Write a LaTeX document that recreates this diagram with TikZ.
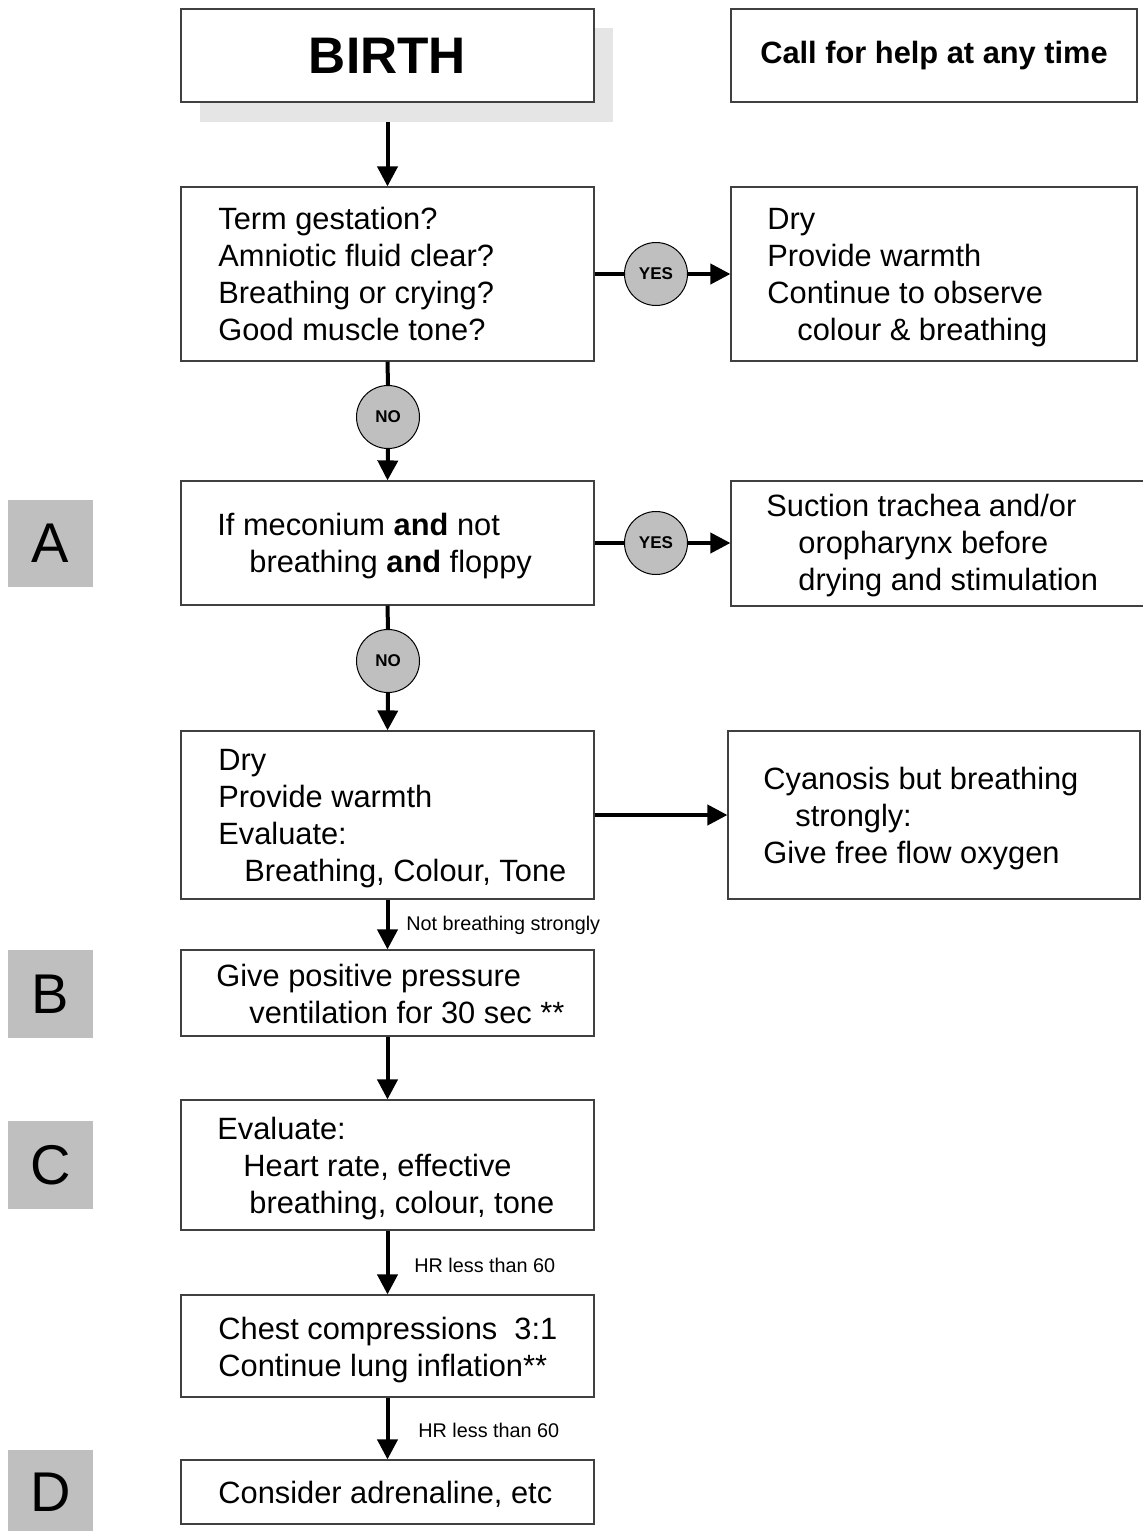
\documentclass[tikz,border=0pt]{standalone}
\usepackage{fontspec}
\setmainfont{Liberation Sans}
\usetikzlibrary{arrows.meta}
\newcommand\fmain{\fontsize{15.4}{18.5}\selectfont}
\newcommand\fsmall{\fontsize{9.9}{11}\selectfont}
\newcommand\fbig{\fontsize{25.7}{30}\selectfont\bfseries}
\newcommand\fletter{\fontsize{28}{32}\selectfont}
\newcommand\fcirc{\fontsize{8.5}{10}\selectfont\bfseries}
\definecolor{shadowgray}{gray}{0.90}
\definecolor{circgray}{gray}{0.75}
\definecolor{boxline}{gray}{0.25}
\tikzset{
  boxnode/.style={draw=boxline, line width=0.6pt, fill=white, rectangle, inner sep=0pt},
  txt/.style={anchor=west, align=left, inner sep=0pt, font=\fmain},
  circnode/.style={circle, draw=black, line width=0.5pt, fill=circgray, minimum size=31.5pt, inner sep=0pt, font=\fcirc},
  letterbox/.style={rectangle, fill=circgray, inner sep=0pt, font=\fletter},
  ln/.style={line width=2pt},
  arr/.style={line width=2pt, -{Triangle[width=10pt,length=10pt]}},
  small/.style={anchor=west, inner sep=0pt, font=\fsmall}
}
\begin{document}
\begin{tikzpicture}[x=0.5pt,y=-0.5pt]
\useasboundingbox[fill=white] (0,0) rectangle (1143,1531);

% letters
\node[letterbox, minimum width=42.5pt, minimum height=43.5pt] (la) at (50.5,543.5) {A};
\node[letterbox, minimum width=42.5pt, minimum height=44pt] (lb) at (50.5,994) {B};
\node[letterbox, minimum width=42.5pt, minimum height=44pt] (lc) at (50.5,1165) {C};
\node[letterbox, minimum width=42.5pt, minimum height=42pt] (ld) at (50.5,1492) {D};

% birth
\node[rectangle, fill=shadowgray, minimum width=206.5pt, minimum height=47pt, inner sep=0pt] (birthsh) at (406.5,75) {};
\node[boxnode, minimum width=206.5pt, minimum height=46.5pt, font=\fbig] (birth) at (387.5,55.5) {BIRTH};
\node[boxnode, minimum width=203pt, minimum height=46.5pt, font=\fmain\bfseries] (call) at (934,55.5) {Call for help at any time};

% question 1
\node[boxnode, minimum width=206.5pt, minimum height=87pt] (q1) at (387.5,274) {};
\node[txt] (q1t) at (218,274) {Term gestation?\\Amniotic fluid clear?\\Breathing or crying?\\Good muscle tone?};
\node[boxnode, minimum width=203pt, minimum height=87pt] (r1) at (934,274) {};
\node[txt] (r1t) at (767,278) {Dry\\Provide warmth\\Continue to observe\\\hspace*{15pt}colour \& breathing};

% meconium
\node[boxnode, minimum width=206.5pt, minimum height=62pt] (meco) at (387.5,543) {};
\node[txt] (mecot) at (217,546) {If meconium \textbf{and} not\\\hspace*{16pt}breathing \textbf{and} floppy};
\node[boxnode, minimum width=209.5pt, minimum height=62.5pt] (suc) at (940.5,543.5) {};
\node[txt] (suct) at (766,546) {Suction trachea and/or\\\hspace*{16pt}oropharynx before\\\hspace*{16pt}drying and stimulation};

% dry
\node[boxnode, minimum width=206.5pt, minimum height=84pt] (dry) at (387.5,815) {};
\node[txt] (dryt) at (218,819) {Dry\\Provide warmth\\Evaluate:\\\hspace*{13pt}Breathing, Colour, Tone};
\node[boxnode, minimum width=206pt, minimum height=84pt] (cyan) at (934,815) {};
\node[txt] (cyant) at (763,819) {Cyanosis but breathing\\\hspace*{16pt}strongly:\\Give free flow oxygen};

% ppv
\node[boxnode, minimum width=206.5pt, minimum height=43pt] (ppv) at (387.5,993) {};
\node[txt] (ppvt) at (216,994) {Give positive pressure\\\hspace*{16.5pt}ventilation for 30 sec **};

% evaluate
\node[boxnode, minimum width=206.5pt, minimum height=65pt] (ev) at (387.5,1165) {};
\node[txt] (evt) at (217,1169) {Evaluate:\\\hspace*{13pt}Heart rate, effective\\\hspace*{16pt}breathing, colour, tone};

% chest
\node[boxnode, minimum width=206.5pt, minimum height=51pt] (ch) at (387.5,1346) {};
\node[txt] (cht) at (218,1350) {Chest compressions\ \ 3:1\\Continue lung inflation**};

% adrenaline
\node[boxnode, minimum width=206.5pt, minimum height=32pt] (ad) at (387.5,1492) {};
\node[txt] (adt) at (218,1494) {Consider adrenaline, etc};

% circles
\node[circnode] (yes1) at (656,274) {YES};
\node[circnode] (yes2) at (656,543) {YES};
\node[circnode] (no1) at (388,417) {NO};
\node[circnode] (no2) at (388,661) {NO};

% connectors
\draw[arr] (q1.north |- birthsh.south) -- (q1.north);
\draw[ln] (q1.east) -- (yes1.west);
\draw[arr] (yes1.east) -- (r1.west);
\draw[ln] (q1.south) -- (no1.north);
\draw[arr] (no1.south) -- (meco.north);
\draw[ln] (meco.east) -- (yes2.west);
\draw[arr] (yes2.east) -- (suc.west |- yes2.east);
\draw[ln] (meco.south) -- (no2.north);
\draw[arr] (no2.south) -- (dry.north);
\draw[arr] (dry.east) -- (cyan.west);
\draw[arr] (dry.south) -- (ppv.north);
\draw[arr] (ppv.south) -- (ev.north);
\draw[arr] (ev.south) -- (ch.north);
\draw[arr] (ch.south) -- (ad.north);

% connector labels
\node[small] (l1) at (406,925) {Not breathing strongly};
\node[small] (l2) at (414,1265) {HR less than 60};
\node[small] (l3) at (418,1430) {HR less than 60};
\end{tikzpicture}
\end{document}
